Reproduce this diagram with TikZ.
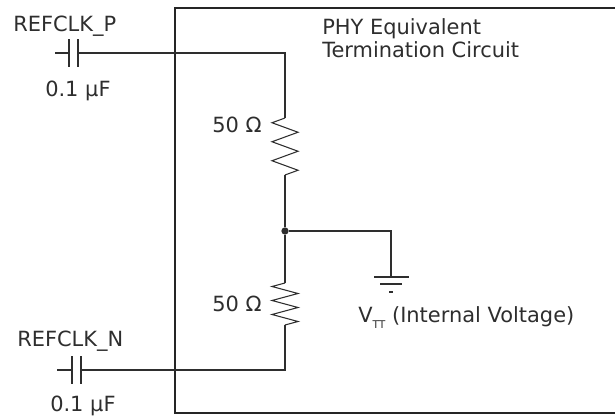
\documentclass[tikz,border=0pt]{standalone}
\usepackage{fontspec}
\setmainfont{DejaVu Sans}
\usetikzlibrary{positioning}
\definecolor{ink}{HTML}{2E2E2E}

\begin{document}
\begin{tikzpicture}[
    x=0.75pt, y=-0.75pt,
    font=\fontsize{15.7}{17.25}\selectfont,
    wire/.style={draw=ink, line width=0.8pt},
    plate/.style={draw=ink, line width=1.1pt},
    border/.style={draw=ink!80!black, line width=2.2pt},
    lbl/.style={text=ink, inner sep=0pt, anchor=base west},
    dot/.style={circle, fill=ink, inner sep=0pt, minimum size=5.5pt}
]
\useasboundingbox (0,0) rectangle (615,416);

% PHY box (open to the right)
\draw[border] (616,8) -- (175,8) -- (175,413) -- (616,413);

% Key points
\coordinate (pin) at (55,53);
\coordinate (cpa) at (69,53);
\coordinate (cpb) at (78,53);
\coordinate (nin) at (57,370);
\coordinate (cna) at (72,370);
\coordinate (cnb) at (81,370);
\coordinate (rtop) at (285,118);
\coordinate (rlow) at (285,283);
\coordinate (gnd) at (391,277);
\node[dot] (jn) at (285,231) {};

% Capacitors
\draw[wire] (pin) -- (cpa);
\draw[plate] ([yshift=-10.5pt]cpa) -- ([yshift=10.5pt]cpa);
\draw[plate] ([yshift=-10.5pt]cpb) -- ([yshift=10.5pt]cpb);
\draw[wire] (nin) -- (cna);
\draw[plate] ([yshift=-10.5pt]cna) -- ([yshift=10.5pt]cna);
\draw[plate] ([yshift=-10.5pt]cnb) -- ([yshift=10.5pt]cnb);

% Resistors
\draw[wire] (rtop) -- ++(-13,4.75) -- ++(26,9.5) -- ++(-26,9.5) -- ++(26,9.5)
    -- ++(-26,9.5) -- ++(26,9.5) -- ++(-13,4.75) coordinate (rtopend);
\draw[wire] (rlow) -- ++(-13,3.5) -- ++(26,7) -- ++(-26,7) -- ++(26,7)
    -- ++(-26,7) -- ++(26,7) -- ++(-13,3.5) coordinate (rlowend);

% Wires
\draw[wire] (cpb) -| (rtop);
\draw[wire] (rtopend) -- (jn) -- (rlow);
\draw[wire] (rlowend) |- (cnb);
\draw[wire] (jn) -| (gnd);

% Ground
\draw[wire] (gnd) ++(-17,0) -- ++(35,0);
\draw[wire] (gnd) ++(-11,7) -- ++(22,0);
\draw[wire] (gnd) ++(-2,15) -- ++(4,0);

% Labels
\node[lbl] (refp) at (13,32) {REFCLK\_P};
\node[lbl] (cvp) at (45,97) {0.1 µF};
\node[lbl] (refn) at (17,347) {REFCLK\_N};
\node[lbl] (cvn) at (50,412) {0.1 µF};
\node[lbl] (rup) at (212,133) {50 Ω};
\node[lbl] (rdn) at (212,312) {50 Ω};
\node[lbl] (phya) at (322,35) {PHY Equivalent};
\node[lbl] (phyb) at (322,58) {Termination Circuit};
\node[lbl] (vtt) at (358,323) {V\raisebox{-0.5ex}{\fontsize{8}{8}\selectfont TT} (Internal Voltage)};

\end{tikzpicture}
\end{document}
